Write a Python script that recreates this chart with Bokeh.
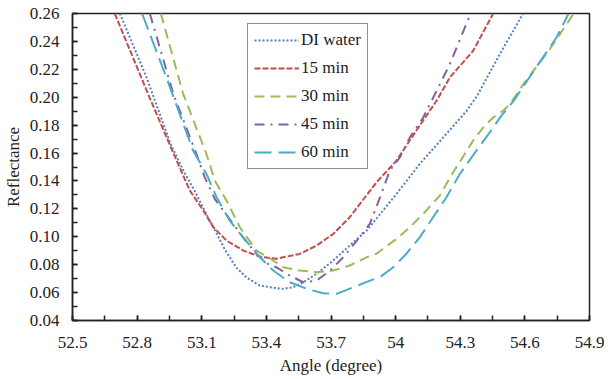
from bokeh.plotting import figure
from bokeh.models import FixedTicker, Legend, LegendItem, Range1d
from bokeh.embed import file_html
from bokeh.resources import INLINE

# ---- data ----
angle_di = [52.72, 52.844, 52.955, 53.015, 53.066, 53.113, 53.169, 53.21, 53.261, 53.308, 53.368, 53.433,
            53.478, 53.525, 53.571, 53.633, 53.71, 53.787, 53.865, 53.911, 54.004, 54.112, 54.221, 54.33,
            54.38, 54.484, 54.592]
refl_di = [0.260, 0.2141, 0.1665, 0.1474, 0.1331, 0.1188, 0.1023, 0.0901, 0.0779, 0.0708, 0.0651, 0.0634,
           0.0627, 0.0639, 0.0674, 0.0734, 0.083, 0.0937, 0.1044, 0.113, 0.1307, 0.1522, 0.1712, 0.1903,
           0.2015, 0.231, 0.260]

angle_15 = [52.696, 52.858, 52.969, 53.045, 53.107, 53.154, 53.215, 53.293, 53.37, 53.447, 53.478, 53.555,
            53.633, 53.71, 53.787, 53.911, 54.004, 54.10, 54.19, 54.252, 54.36, 54.453]
refl_15 = [0.260, 0.1997, 0.1596, 0.1331, 0.1188, 0.1068, 0.0973, 0.0901, 0.0858, 0.0842, 0.0853, 0.0877,
           0.0937, 0.102, 0.114, 0.139, 0.1546, 0.177, 0.1975, 0.2142, 0.2333, 0.260]

angle_30 = [52.91, 53.014, 53.122, 53.161, 53.215, 53.277, 53.354, 53.432, 53.478, 53.555, 53.633, 53.71,
            53.787, 53.865, 53.911, 54.004, 54.066, 54.128, 54.205, 54.267, 54.321, 54.36, 54.407, 54.453,
            54.499, 54.531, 54.593, 54.717, 54.825]
refl_30 = [0.260, 0.2023, 0.1593, 0.1402, 0.1259, 0.1068, 0.0901, 0.0830, 0.0782, 0.0758, 0.0746, 0.0758,
           0.0794, 0.0853, 0.0878, 0.0985, 0.1068, 0.1164, 0.1295, 0.1462, 0.1593, 0.1689, 0.1784, 0.1855,
           0.1903, 0.1951, 0.2094, 0.2347, 0.2596]

angle_45 = [52.859, 52.968, 53.076, 53.114, 53.161, 53.292, 53.354, 53.416, 53.447, 53.509, 53.571, 53.633,
            53.695, 53.757, 53.82, 53.88, 53.927, 53.973, 54.02, 54.066, 54.128, 54.159, 54.252, 54.348]
refl_45 = [0.260, 0.2024, 0.159, 0.1426, 0.127, 0.0996, 0.0877, 0.0794, 0.0781, 0.0722, 0.0674, 0.0686,
           0.0757, 0.0853, 0.0973, 0.1092, 0.128, 0.1474, 0.157, 0.1712, 0.1855, 0.195, 0.2238, 0.260]

angle_60 = [52.823, 52.936, 53.06, 53.122, 53.169, 53.23, 53.292, 53.37, 53.432, 53.509, 53.587, 53.664,
            53.726, 53.803, 53.881, 53.927, 53.989, 54.05, 54.112, 54.174, 54.236, 54.298, 54.375, 54.437,
            54.491, 54.546, 54.654, 54.747, 54.802]
refl_60 = [0.260, 0.2141, 0.1617, 0.145, 0.1282, 0.1115, 0.0996, 0.0853, 0.0758, 0.0674, 0.0627, 0.0595,
           0.0591, 0.0638, 0.0686, 0.071, 0.0782, 0.0878, 0.0996, 0.114, 0.1283, 0.145, 0.1617, 0.1748,
           0.1868, 0.197, 0.2218, 0.2428, 0.2596]

series_labels = ["DI water", "15 min", "30 min", "45 min", "60 min"]

x_ticks = [52.5, 52.8, 53.1, 53.4, 53.7, 54.0, 54.3, 54.6, 54.9]
x_tick_labels = ["52.5", "52.8", "53.1", "53.4", "53.7", "54", "54.3", "54.6", "54.9"]
x_minor_ticks = [52.5, 52.65, 52.8, 52.95, 53.1, 53.25, 53.4, 53.55, 53.7, 53.85, 54.0, 54.15,
                 54.3, 54.45, 54.6, 54.75, 54.9]
y_ticks = [0.04, 0.06, 0.08, 0.10, 0.12, 0.14, 0.16, 0.18, 0.20, 0.22, 0.24, 0.26]
y_tick_labels = ["0.04", "0.06", "0.08", "0.10", "0.12", "0.14", "0.16", "0.18", "0.20", "0.22", "0.24", "0.26"]
y_minor_ticks = [0.04, 0.05, 0.06, 0.07, 0.08, 0.09, 0.10, 0.11, 0.12, 0.13, 0.14, 0.15, 0.16, 0.17,
                 0.18, 0.19, 0.20, 0.21, 0.22, 0.23, 0.24, 0.25, 0.26]

FONT = "Liberation Serif"

p = figure(frame_width=517, frame_height=307, output_backend="svg", toolbar_location=None,
           x_range=Range1d(52.5, 54.9), y_range=Range1d(0.04, 0.26),
           min_border_left=68, min_border_top=13, min_border_right=15, min_border_bottom=55)
p.background_fill_color = "white"
p.border_fill_color = "white"
p.outline_line_color = "#222222"
p.outline_line_width = 1.5
p.xgrid.visible = False
p.ygrid.visible = False

styles = [
    (angle_di, refl_di, "#4F81BD", "2 2"),
    (angle_15, refl_15, "#C0504D", "6 2"),
    (angle_30, refl_30, "#9BBB59", "10 6"),
    (angle_45, refl_45, "#8064A2", "10 6 2 6"),
    (angle_60, refl_60, "#4BACC6", "17 7"),
]
items = []
for (xs, ys, col, dash), lab in zip(styles, series_labels):
    r = p.line(xs, ys, line_color=col, line_width=2, line_dash=dash)
    items.append(LegendItem(label=lab, renderers=[r]))

for ax in (p.xaxis[0], p.yaxis[0]):
    ax.axis_line_color = "#222222"
    ax.axis_line_width = 1.5
    ax.major_tick_in = 5
    ax.major_tick_out = 0
    ax.minor_tick_in = 5
    ax.minor_tick_out = 0
    ax.major_tick_line_color = "#222222"
    ax.minor_tick_line_color = "#222222"
    ax.major_tick_line_width = 1.5
    ax.minor_tick_line_width = 1.5
    ax.major_label_text_font = FONT
    ax.major_label_text_font_size = "17px"
    ax.major_label_text_color = "#222222"
    ax.axis_label_text_font = FONT
    ax.axis_label_text_font_size = "17px"
    ax.axis_label_text_font_style = "normal"
    ax.axis_label_text_color = "#222222"

p.xaxis.ticker = FixedTicker(ticks=x_ticks, minor_ticks=x_minor_ticks)
p.xaxis.major_label_overrides = dict(zip(x_ticks, x_tick_labels))
p.xaxis.major_label_standoff = 16
p.xaxis.axis_label = "Angle (degree)"
p.xaxis.axis_label_standoff = 5

p.yaxis.ticker = FixedTicker(ticks=y_ticks, minor_ticks=y_minor_ticks)
p.yaxis.major_label_overrides = dict(zip(y_ticks, y_tick_labels))
p.yaxis.major_label_standoff = 13
p.yaxis.axis_label = "Reflectance"
p.yaxis.axis_label_standoff = 4

legend = Legend(items=items, location=(175, 151))
legend.border_line_color = "#222222"
legend.border_line_width = 1.5
legend.background_fill_color = "white"
legend.background_fill_alpha = 1
legend.label_text_font = FONT
legend.label_text_font_size = "17px"
legend.label_text_color = "#222222"
legend.padding = 6
legend.spacing = 8
legend.glyph_height = 16
legend.label_height = 16
legend.glyph_width = 45
legend.label_standoff = 2
legend.margin = 0
p.add_layout(legend)

open("out.html", "w").write(file_html(p, INLINE))
